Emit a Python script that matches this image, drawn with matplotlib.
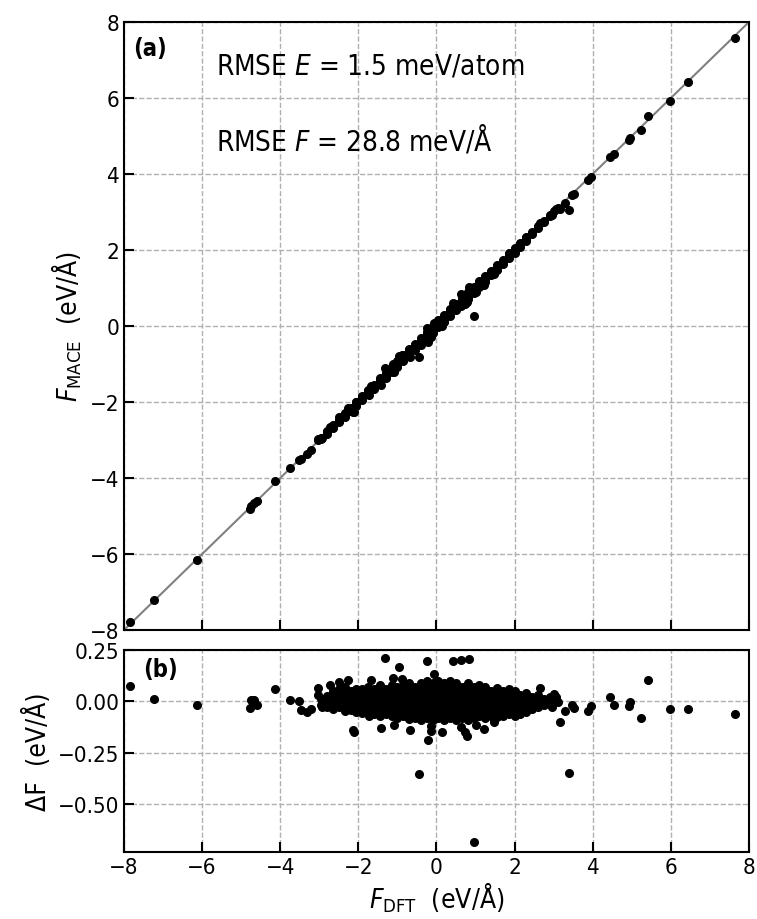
import matplotlib
matplotlib.use("Agg")
import matplotlib.pyplot as plt
import numpy as np

plt.rcParams['font.family'] = ['DejaVu Sans']
plt.rcParams['font.stretch'] = 'condensed'
plt.rcParams['mathtext.fontset'] = 'custom'
plt.rcParams['mathtext.rm'] = 'DejaVu Sans:stretch=condensed'
plt.rcParams['mathtext.it'] = 'DejaVu Sans:italic:stretch=condensed'
plt.rcParams['mathtext.bf'] = 'DejaVu Sans:bold:stretch=condensed'

# dense core of the parity data: F_DFT column -> list of residuals dF (eV/A)
core = [
    (-2.95, [-0.02, 0.012]),
    (-2.80, [-0.03, 0.00, 0.028]),
    (-2.65, [-0.04, -0.012, 0.02, 0.048]),
    (-2.50, [-0.03, 0.002, 0.03, 0.058]),
    (-2.35, [-0.048, -0.02, 0.012, 0.04, 0.068]),
    (-2.20, [-0.042, -0.01, 0.022, 0.05]),
    (-2.05, [-0.05, -0.02, 0.01, 0.038, 0.062]),
    (-1.90, [-0.058, -0.03, 0.00, 0.03, 0.058]),
    (-1.75, [-0.05, -0.022, 0.012, 0.04, 0.068]),
    (-1.60, [-0.062, -0.03, 0.002, 0.03, 0.06]),
    (-1.45, [-0.07, -0.04, -0.01, 0.02, 0.05, 0.078]),
    (-1.30, [-0.06, -0.03, 0.00, 0.03, 0.062]),
    (-1.15, [-0.072, -0.04, -0.012, 0.02, 0.05, 0.08]),
    (-1.00, [-0.08, -0.05, -0.02, 0.01, 0.04, 0.07]),
    (-0.85, [-0.07, -0.04, -0.01, 0.02, 0.05, 0.08]),
    (-0.70, [-0.088, -0.06, -0.03, 0.00, 0.03, 0.06, 0.088]),
    (-0.55, [-0.08, -0.05, -0.02, 0.01, 0.04, 0.07]),
    (-0.40, [-0.09, -0.06, -0.03, 0.00, 0.03, 0.06, 0.09]),
    (-0.25, [-0.08, -0.05, -0.02, 0.01, 0.04, 0.07, 0.098]),
    (-0.10, [-0.09, -0.06, -0.03, 0.00, 0.03, 0.06, 0.09]),
    (0.05, [-0.08, -0.05, -0.02, 0.01, 0.04, 0.07, 0.10]),
    (0.20, [-0.092, -0.06, -0.03, 0.00, 0.03, 0.06, 0.09]),
    (0.35, [-0.08, -0.05, -0.02, 0.01, 0.04, 0.07, 0.098]),
    (0.50, [-0.09, -0.06, -0.03, 0.00, 0.03, 0.06, 0.088]),
    (0.65, [-0.08, -0.05, -0.02, 0.01, 0.04, 0.07]),
    (0.80, [-0.09, -0.06, -0.03, 0.00, 0.03, 0.06, 0.09]),
    (0.95, [-0.08, -0.05, -0.02, 0.01, 0.04, 0.07]),
    (1.10, [-0.07, -0.04, -0.01, 0.02, 0.05, 0.078]),
    (1.25, [-0.08, -0.05, -0.02, 0.01, 0.04, 0.068]),
    (1.40, [-0.07, -0.04, -0.01, 0.02, 0.05]),
    (1.55, [-0.078, -0.05, -0.02, 0.01, 0.04, 0.066]),
    (1.70, [-0.07, -0.04, -0.01, 0.02, 0.05]),
    (1.85, [-0.06, -0.03, 0.00, 0.03, 0.06]),
    (2.00, [-0.07, -0.04, -0.01, 0.02, 0.05]),
    (2.15, [-0.06, -0.03, 0.00, 0.03]),
    (2.30, [-0.05, -0.02, 0.01, 0.04]),
    (2.45, [-0.04, -0.01, 0.02]),
    (2.60, [-0.03, 0.00, 0.03]),
    (2.75, [-0.02, 0.012]),
    (2.90, [-0.01, 0.02]),
]

# sparse points and outliers
out_dft = [-7.85, -7.23, -6.14, -4.78, -4.75, -4.67, -4.60, -4.14, -3.74, -3.52,
           -3.46, -3.31, -3.22, -3.04, -3.04, -2.92, -2.73, -2.49, -2.26, -2.13,
           -2.10, -1.68, -1.73, -1.42, -1.31, -1.12, -0.88, -0.96, -0.25, -0.06,
           0.41, 0.64, 0.82, -1.10, -0.68, -0.23, -0.14, -0.14, 0.15, 0.64,
           0.72, 0.79, 1.01, 1.22, 1.47, 1.47, -0.46, 3.39, 0.95, 2.65,
           3.00, 3.06, 3.12, 2.95, 3.17, 3.29, 3.46, 3.51, 3.89, 3.95,
           4.43, 4.54, 4.92, 4.95, 5.24, 5.42, 5.97, 6.45, 7.65]
out_df = [0.074, 0.013, -0.016, -0.031, 0.005, 0.008, -0.016, 0.061, 0.005, 0.0,
          -0.044, -0.052, -0.039, 0.067, 0.033, -0.027, 0.078, 0.095, 0.103, -0.139,
          -0.150, 0.106, -0.073, -0.129, 0.210, 0.115, 0.111, 0.169, 0.198, 0.132,
          0.196, 0.203, 0.204, -0.114, -0.139, -0.191, -0.120, -0.147, -0.150, -0.124,
          -0.150, -0.171, -0.117, -0.134, -0.100, -0.085, -0.353, -0.348, -0.687, 0.067,
          0.037, 0.020, -0.005, -0.030, -0.100, -0.049, -0.016, -0.033, -0.049, -0.024,
          0.023, -0.016, -0.024, -0.003, -0.080, 0.106, -0.039, -0.039, -0.064]

f_dft = np.array([x for x, col in core for _ in col] + out_dft)
d_f = np.array([d for x, col in core for d in col] + out_df)
f_mace = f_dft + d_f

fig = plt.figure(figsize=(7.57, 9.2), dpi=100)
ax1 = fig.add_axes([0.1638, 0.3141, 0.8256, 0.6609])
ax2 = fig.add_axes([0.1638, 0.0728, 0.8256, 0.2196])

grid_kw = dict(color='#b0b0b0', linestyle='--', linewidth=1.0)

ax1.plot([-8, 8], [-8, 8], color='#808080', linewidth=1.5, zorder=2)
ax1.plot(f_dft, f_mace, 'o', color='black', markersize=5.5, zorder=3)
ax1.set_xlim(-8, 8)
ax1.set_ylim(-8, 8)
ax1.set_xticks(np.arange(-8, 9, 2))
ax1.set_yticks(np.arange(-8, 9, 2))
ax1.tick_params(labelbottom=False)
ax1.set_ylabel(r'$F_{\mathrm{MACE}}$  (eV/Å)', fontsize=19)
ax1.grid(True, **grid_kw)
ax1.text(0.014, 0.977, '(a)', transform=ax1.transAxes, fontsize=17,
         fontweight='bold', va='top', ha='left')
ax1.text(0.147, 0.928, r'RMSE $E$ = 1.5 meV/atom', transform=ax1.transAxes,
         fontsize=20, va='center', ha='left')
ax1.text(0.147, 0.808, r'RMSE $F$ = 28.8 meV/Å', transform=ax1.transAxes,
         fontsize=20, va='center', ha='left')

ax2.plot(f_dft, d_f, 'o', color='black', markersize=5.5, zorder=3)
ax2.set_xlim(-8, 8)
ax2.set_ylim(-0.735, 0.25)
ax2.set_xticks(np.arange(-8, 9, 2))
ax2.set_yticks([-0.5, -0.25, 0.0, 0.25])
ax2.set_yticklabels(['\u22120.50', '\u22120.25', '0.00', '0.25'])
ax2.set_xlabel(r'$F_{\mathrm{DFT}}$  (eV/Å)', fontsize=19, labelpad=2)
ax2.set_ylabel('ΔF  (eV/Å)', fontsize=19)
ax2.grid(True, **grid_kw)
ax2.text(0.03, 0.965, '(b)', transform=ax2.transAxes, fontsize=17,
         fontweight='bold', va='top', ha='left')

for ax in (ax1, ax2):
    ax.tick_params(direction='in', length=7, width=1.5, labelsize=16)
    for s in ax.spines.values():
        s.set_linewidth(1.5)
    ax.set_axisbelow(True)

fig.savefig('out.png', dpi=100)
